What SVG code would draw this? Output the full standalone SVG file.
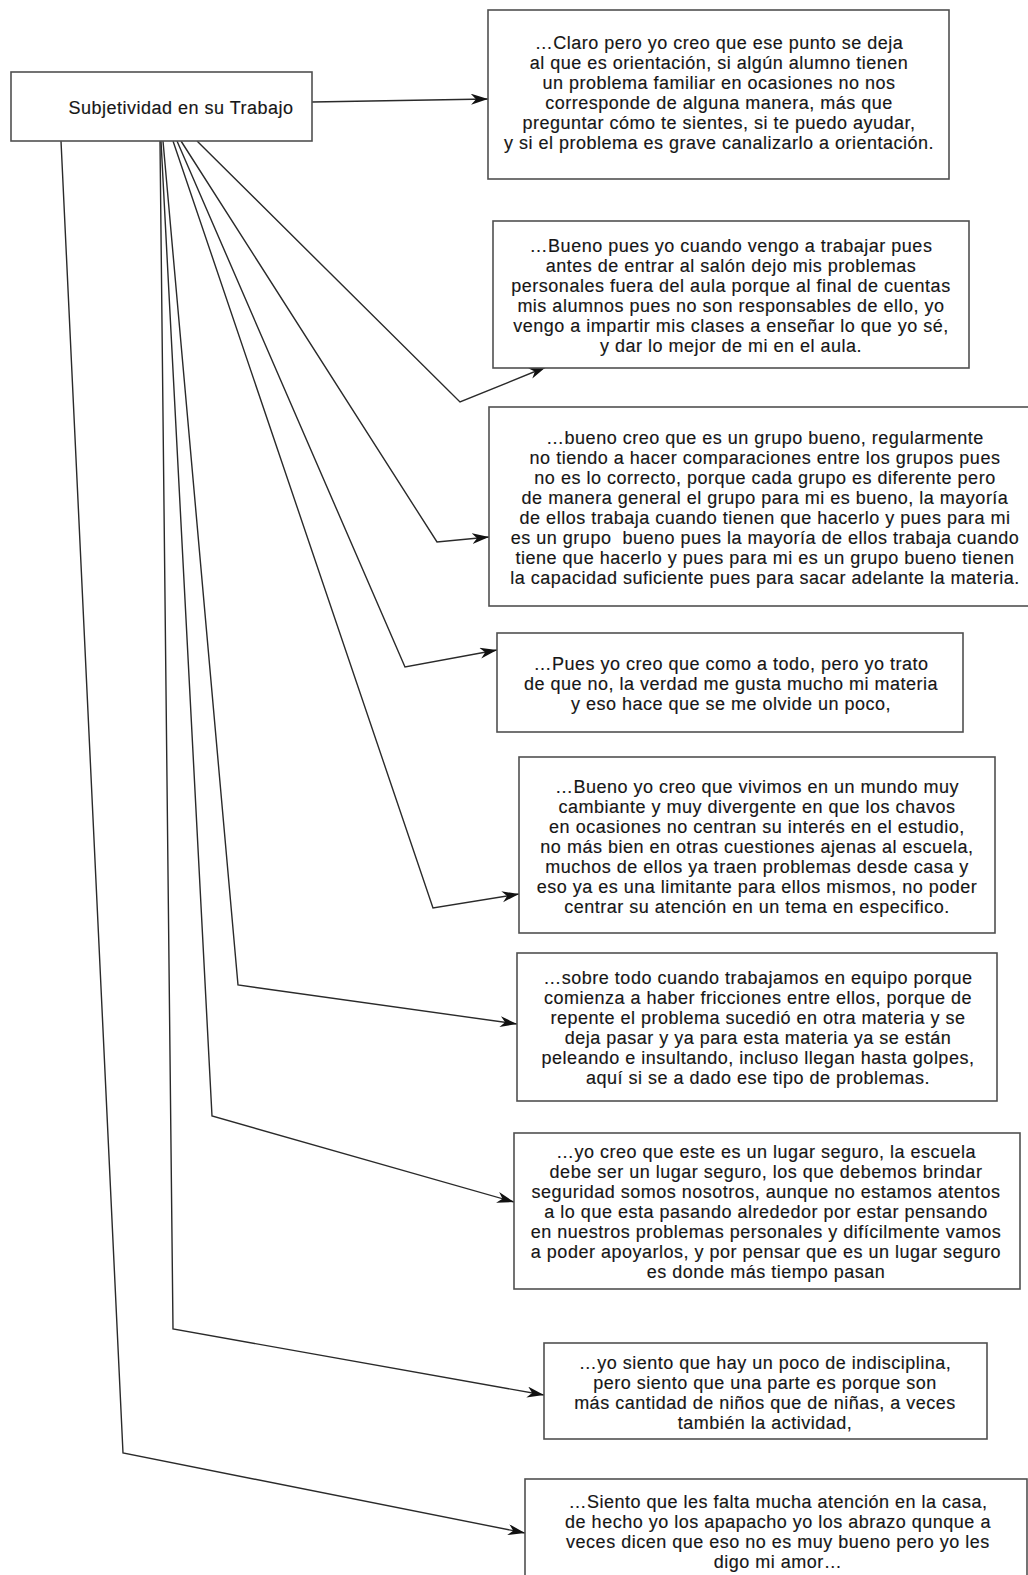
<svg xmlns="http://www.w3.org/2000/svg" width="1028" height="1575" viewBox="0 0 1028 1575">
<style>
.box{fill:#fff;stroke:#505050;stroke-width:1.6}
.t{font-family:"Liberation Sans",Arial,sans-serif;font-size:18px;letter-spacing:0.5px;fill:#161616;stroke:#161616;stroke-width:0.15;text-anchor:middle}
.c{fill:none;stroke:#2a2a2a;stroke-width:1.4;marker-end:url(#ah)}
</style>
<defs>
<marker id="ah" markerUnits="userSpaceOnUse" markerWidth="18" markerHeight="12" refX="17" refY="5.5" orient="auto">
<path d="M0,0 L17,5.5 L0,11 L5,5.5 z" fill="#111"/>
</marker>
</defs>
<rect width="1028" height="1575" fill="#fff"/>
<g id="connectors">
<path class="c" d="M312,102 L488,99"/>
<path class="c" d="M197,141 L460,402 L546,367"/>
<path class="c" d="M181,141 L437,542 L489,537"/>
<path class="c" d="M177,141 L405,667 L497,650"/>
<path class="c" d="M173,141 L433,908 L519,894"/>
<path class="c" d="M163,141 L238,985 L517,1024"/>
<path class="c" d="M161,141 L212,1116 L514,1202"/>
<path class="c" d="M160,141 L173,1329 L544,1395"/>
<path class="c" d="M61,141 L123,1453 L525,1533"/>
</g>
<g id="source">
<rect class="box" x="11" y="72" width="301" height="69"/>
<text class="t" x="181" y="114">Subjetividad en su Trabajo</text>
</g>
<g id="n1">
<rect class="box" x="488" y="10" width="461" height="169"/>
<text class="t" x="719" y="49">…Claro pero yo creo que ese punto se deja</text>
<text class="t" x="719" y="69">al que es orientación, si algún alumno tienen</text>
<text class="t" x="719" y="89">un problema familiar en ocasiones no nos</text>
<text class="t" x="719" y="109">corresponde de alguna manera, más que</text>
<text class="t" x="719" y="129">preguntar cómo te sientes, si te puedo ayudar,</text>
<text class="t" x="719" y="149">y si el problema es grave canalizarlo a orientación.</text>
</g>
<g id="n2">
<rect class="box" x="493" y="221" width="476" height="147"/>
<text class="t" x="731" y="252">…Bueno pues yo cuando vengo a trabajar pues</text>
<text class="t" x="731" y="272">antes de entrar al salón dejo mis problemas</text>
<text class="t" x="731" y="292">personales fuera del aula porque al final de cuentas</text>
<text class="t" x="731" y="312">mis alumnos pues no son responsables de ello, yo</text>
<text class="t" x="731" y="332">vengo a impartir mis clases a enseñar lo que yo sé,</text>
<text class="t" x="731" y="352">y dar lo mejor de mi en el aula.</text>
</g>
<g id="n3">
<rect class="box" x="489" y="407" width="556" height="199"/>
<text class="t" x="765" y="444">…bueno creo que es un grupo bueno, regularmente</text>
<text class="t" x="765" y="464">no tiendo a hacer comparaciones entre los grupos pues</text>
<text class="t" x="765" y="484">no es lo correcto, porque cada grupo es diferente pero</text>
<text class="t" x="765" y="504">de manera general el grupo para mi es bueno, la mayoría</text>
<text class="t" x="765" y="524">de ellos trabaja cuando tienen que hacerlo y pues para mi</text>
<text class="t" x="765" y="544" xml:space="preserve">es un grupo  bueno pues la mayoría de ellos trabaja cuando</text>
<text class="t" x="765" y="564">tiene que hacerlo y pues para mi es un grupo bueno tienen</text>
<text class="t" x="765" y="584">la capacidad suficiente pues para sacar adelante la materia.</text>
</g>
<g id="n4">
<rect class="box" x="497" y="633" width="466" height="99"/>
<text class="t" x="731" y="670">…Pues yo creo que como a todo, pero yo trato</text>
<text class="t" x="731" y="690">de que no, la verdad me gusta mucho mi materia</text>
<text class="t" x="731" y="710">y eso hace que se me olvide un poco,</text>
</g>
<g id="n5">
<rect class="box" x="519" y="757" width="476" height="176"/>
<text class="t" x="757" y="793">…Bueno yo creo que vivimos en un mundo muy</text>
<text class="t" x="757" y="813">cambiante y muy divergente en que los chavos</text>
<text class="t" x="757" y="833">en ocasiones no centran su interés en el estudio,</text>
<text class="t" x="757" y="853">no más bien en otras cuestiones ajenas al escuela,</text>
<text class="t" x="757" y="873">muchos de ellos ya traen problemas desde casa y</text>
<text class="t" x="757" y="893">eso ya es una limitante para ellos mismos, no poder</text>
<text class="t" x="757" y="913">centrar su atención en un tema en especifico.</text>
</g>
<g id="n6">
<rect class="box" x="517" y="953" width="480" height="148"/>
<text class="t" x="758" y="984">…sobre todo cuando trabajamos en equipo porque</text>
<text class="t" x="758" y="1004">comienza a haber fricciones entre ellos, porque de</text>
<text class="t" x="758" y="1024">repente el problema sucedió en otra materia y se</text>
<text class="t" x="758" y="1044">deja pasar y ya para esta materia ya se están</text>
<text class="t" x="758" y="1064">peleando e insultando, incluso llegan hasta golpes,</text>
<text class="t" x="758" y="1084">aquí si se a dado ese tipo de problemas.</text>
</g>
<g id="n7">
<rect class="box" x="514" y="1133" width="506" height="156"/>
<text class="t" x="766" y="1158">…yo creo que este es un lugar seguro, la escuela</text>
<text class="t" x="766" y="1178">debe ser un lugar seguro, los que debemos brindar</text>
<text class="t" x="766" y="1198">seguridad somos nosotros, aunque no estamos atentos</text>
<text class="t" x="766" y="1218">a lo que esta pasando alrededor por estar pensando</text>
<text class="t" x="766" y="1238">en nuestros problemas personales y difícilmente vamos</text>
<text class="t" x="766" y="1258">a poder apoyarlos, y por pensar que es un lugar seguro</text>
<text class="t" x="766" y="1278">es donde más tiempo pasan</text>
</g>
<g id="n8">
<rect class="box" x="544" y="1343" width="443" height="96"/>
<text class="t" x="765" y="1369">…yo siento que hay un poco de indisciplina,</text>
<text class="t" x="765" y="1389">pero siento que una parte es porque son</text>
<text class="t" x="765" y="1409">más cantidad de niños que de niñas, a veces</text>
<text class="t" x="765" y="1429">también la actividad,</text>
</g>
<g id="n9">
<rect class="box" x="525" y="1479" width="502" height="112"/>
<text class="t" x="778" y="1508">…Siento que les falta mucha atención en la casa,</text>
<text class="t" x="778" y="1528">de hecho yo los apapacho yo los abrazo qunque a</text>
<text class="t" x="778" y="1548">veces dicen que eso no es muy bueno pero yo les</text>
<text class="t" x="778" y="1568">digo mi amor…</text>
</g>
</svg>
